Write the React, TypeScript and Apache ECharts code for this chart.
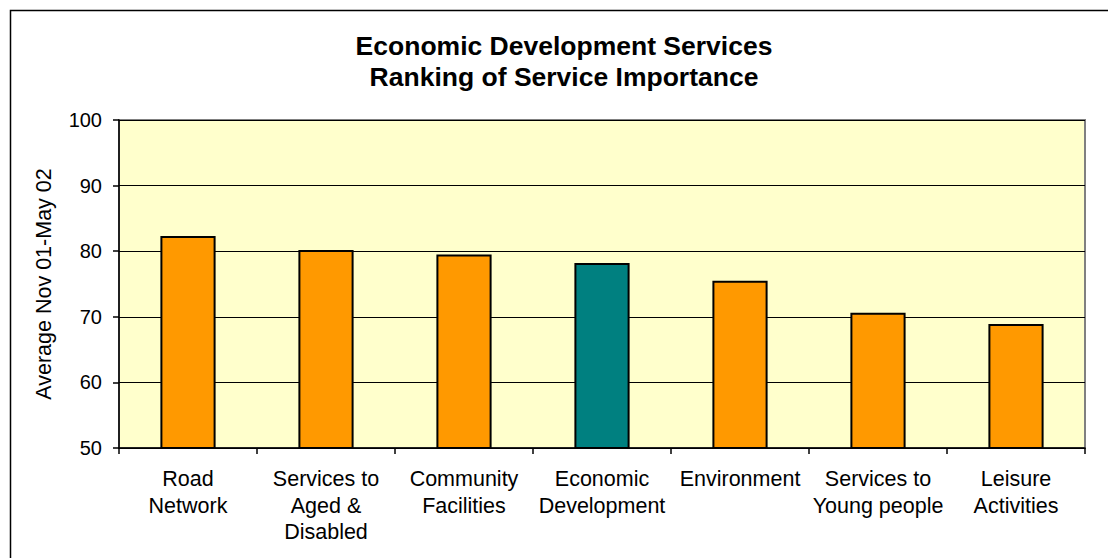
import React, { useEffect, useRef } from "react";
import * as echarts from "echarts";

const categories = [
  "Road\nNetwork",
  "Services to\nAged &\nDisabled",
  "Community\nFacilities",
  "Economic\nDevelopment",
  "Environment",
  "Services to\nYoung people",
  "Leisure\nActivities",
];
const values = [82.3, 80.2, 79.5, 78.2, 75.5, 70.6, 68.9];
const highlightIndex = 3;
const titleLines = ["Economic Development Services", "Ranking of Service Importance"];
const yAxisName = "Average Nov 01-May 02";
const yMin = 50;
const yMax = 100;
const yInterval = 10;

const FONT = '"Liberation Sans", Arial, sans-serif';

export default function App() {
  const ref = useRef<HTMLDivElement>(null);
  useEffect(() => {
    if (!ref.current) return;
    const chart = echarts.init(ref.current, undefined, { renderer: "svg" });
    chart.setOption({
      animation: false,
      backgroundColor: "#ffffff",
      textStyle: { fontFamily: FONT },
      graphic: [
        {
          type: "rect",
          shape: { x: 10.5, y: 10.5, width: 1200, height: 700 },
          style: { fill: "none", stroke: "#000", lineWidth: 1.5 },
          z: 0,
        },
        {
          type: "text",
          x: 564,
          y: 45.5,
          style: {
            text: titleLines[0],
            textAlign: "center",
            textVerticalAlign: "middle",
            font: `bold 26.5px ${FONT}`,
            fill: "#000",
          },
        },
        {
          type: "text",
          x: 564,
          y: 77,
          style: {
            text: titleLines[1],
            textAlign: "center",
            textVerticalAlign: "middle",
            font: `bold 26.5px ${FONT}`,
            fill: "#000",
          },
        },
      ],
      grid: {
        left: 119,
        top: 120,
        right: 23,
        bottom: 110,
        show: true,
        backgroundColor: "#FFFFCC",
        borderColor: "#808080",
        borderWidth: 2,
      },
      xAxis: {
        type: "category",
        data: categories,
        axisLine: { show: true, lineStyle: { color: "#000", width: 1.5 } },
        axisTick: { show: true, length: 6, lineStyle: { color: "#000", width: 1.5 } },
        axisLabel: {
          color: "#000",
          fontSize: 21.5,
          lineHeight: 26.5,
          margin: 18,
          fontFamily: FONT,
          interval: 0,
        },
      },
      yAxis: {
        type: "value",
        min: yMin,
        max: yMax,
        interval: yInterval,
        name: yAxisName,
        nameLocation: "middle",
        nameGap: 64,
        nameTextStyle: { color: "#000", fontSize: 21.5, fontFamily: FONT },
        axisLine: { show: true, lineStyle: { color: "#000", width: 1.5 } },
        axisTick: { show: true, length: 6, lineStyle: { color: "#000", width: 1.5 } },
        axisLabel: { color: "#000", fontSize: 20, margin: 17, fontFamily: FONT },
        splitLine: { show: true, lineStyle: { color: "#000", width: 1 } },
      },
      series: [
        {
          type: "bar",
          barWidth: "40%",
          data: values.map((v, i) => ({
            value: v,
            itemStyle: {
              color: i === highlightIndex ? "#008080" : "#FF9900",
              borderColor: "#000",
              borderWidth: 2,
            },
          })),
        },
      ],
    });
    return () => chart.dispose();
  }, []);
  return (
    <div
      ref={ref}
      style={{ position: "fixed", left: 0, top: 0, width: 1108, height: 558 }}
    />
  );
}
